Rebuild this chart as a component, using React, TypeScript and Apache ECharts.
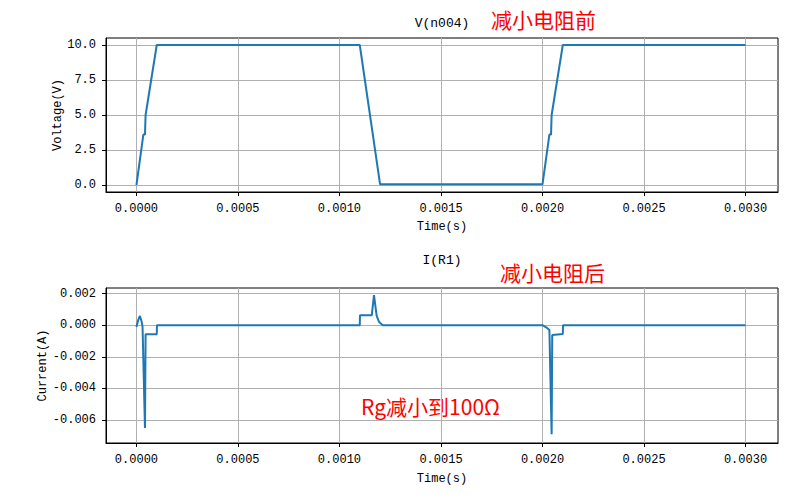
import React, { useEffect, useRef } from "react";
import * as echarts from "echarts";

// V(n004) waveform
const timeV = [0, 0.000034, 0.000042, 0.000045, 0.0001, 0.0011, 0.0012, 0.002, 0.002034, 0.002042, 0.002045, 0.0021, 0.003];
const voltage = [0, 3.6, 3.6, 5.0, 10, 10, 0.05, 0.05, 3.6, 3.6, 5.0, 10, 10];

// I(R1) waveform
const timeI = [0, 0.000008, 0.000017, 0.000026, 0.00003, 0.000042, 0.000045, 0.0001, 0.000101, 0.0011, 0.001101, 0.001159, 0.00117, 0.001183, 0.001195, 0.001214, 0.002, 0.00202, 0.002034, 0.002045, 0.002048, 0.0021, 0.002101, 0.003];
const current = [-0.00012, 0.0003, 0.00058, 0.0002, -0.0001, -0.0065, -0.00058, -0.00058, 0, 0, 0.00062, 0.00062, 0.0019, 0.0006, 0.0002, 0, 0, -0.00015, -0.0003, -0.0069, -0.00062, -0.00056, 0, 0];

const xTicks = [0, 0.0005, 0.001, 0.0015, 0.002, 0.0025, 0.003];
const vTicks = [0, 2.5, 5, 7.5, 10];
const iTicks = [-0.006, -0.004, -0.002, 0, 0.002];

const LATIN = "'Liberation Mono', 'DejaVu Sans Mono', monospace";
const CJK = "'Noto Sans CJK SC', sans-serif";

export default function App() {
  const ref = useRef<HTMLDivElement>(null);
  useEffect(() => {
    if (!ref.current) return;
    const chart = echarts.init(ref.current, null, { renderer: "svg" });
    const mkX = (gi: number, gap: number) => ({
      type: "value",
      gridIndex: gi,
      min: -0.00015,
      max: 0.00316,
      name: "Time(s)",
      nameLocation: "middle",
      nameGap: gap,
      nameMoveOverlap: false,
      nameTextStyle: { fontFamily: LATIN, fontSize: 12, color: "#000" },
      axisLine: { show: true, onZero: false, lineStyle: { color: "#000", width: 1 } },
      axisTick: { show: true, length: 4, customValues: xTicks, lineStyle: { color: "#000" } },
      axisLabel: {
        customValues: xTicks,
        margin: 11,
        fontFamily: LATIN,
        fontSize: 12,
        color: "#000",
        formatter: (v: number) => v.toFixed(4),
      },
      splitLine: { show: true, lineStyle: { color: "#b0b0b0", width: 1 } },
    });
    const mkY = (gi: number, min: number, max: number, ticks: number[], dec: number, name: string, gap: number) => ({
      type: "value",
      gridIndex: gi,
      min,
      max,
      name,
      nameLocation: "middle",
      nameGap: gap,
      nameMoveOverlap: false,
      nameTextStyle: { fontFamily: LATIN, fontSize: 12, color: "#000" },
      axisLine: { show: true, onZero: false, lineStyle: { color: "#000", width: 1 } },
      axisTick: { show: true, length: 4, customValues: ticks, lineStyle: { color: "#000" } },
      axisLabel: {
        customValues: ticks,
        margin: 10,
        fontFamily: LATIN,
        fontSize: 12,
        color: "#000",
        formatter: (v: number) => v.toFixed(dec),
      },
      splitLine: { show: true, lineStyle: { color: "#b0b0b0", width: 1 } },
    });
    chart.setOption({
      animation: false,
      backgroundColor: "#fff",
      title: [
        { text: "V(n004)", left: 437, top: 12, textAlign: "center", textStyle: { fontFamily: LATIN, fontSize: 13, fontWeight: "normal", color: "#000" } },
        { text: "I(R1)", left: 437, top: 249, textAlign: "center", textStyle: { fontFamily: LATIN, fontSize: 13, fontWeight: "normal", color: "#000" } },
      ],
      grid: [
        { left: 106, right: 22, top: 38, height: 154, show: true, borderColor: "#000", borderWidth: 1 },
        { left: 106, right: 22, top: 288, height: 155, show: true, borderColor: "#000", borderWidth: 1 },
      ],
      xAxis: [mkX(0, 29), mkX(1, 30)],
      yAxis: [
        mkY(0, -0.5, 10.5, vTicks, 1, "Voltage(V)", 42),
        mkY(1, -0.00745, 0.00235, iTicks, 3, "Current(A)", 57),
      ],
      series: [
        {
          type: "line",
          xAxisIndex: 0,
          yAxisIndex: 0,
          data: timeV.map((t, i) => [t, voltage[i]]),
          showSymbol: false,
          lineStyle: { color: "#1f77b4", width: 2 },
          itemStyle: { color: "#1f77b4" },
        },
        {
          type: "line",
          xAxisIndex: 1,
          yAxisIndex: 1,
          data: timeI.map((t, i) => [t, current[i]]),
          showSymbol: false,
          lineStyle: { color: "#1f77b4", width: 2 },
          itemStyle: { color: "#1f77b4" },
        },
      ],
      graphic: [
        { type: "text", left: 491, top: 8, style: { text: "减小电阻前", fill: "#ff0000", font: `21px ${CJK}` } },
        { type: "text", left: 500, top: 261, style: { text: "减小电阻后", fill: "#ff0000", font: `21px ${CJK}` } },
        { type: "text", left: 361, top: 395, style: { text: "Rg减小到100Ω", fill: "#ff0000", font: `21px ${CJK}` } },
      ],
    });
    return () => chart.dispose();
  }, []);
  return <div ref={ref} style={{ width: 800, height: 500, position: "absolute", left: 0, top: 0 }} />;
}
